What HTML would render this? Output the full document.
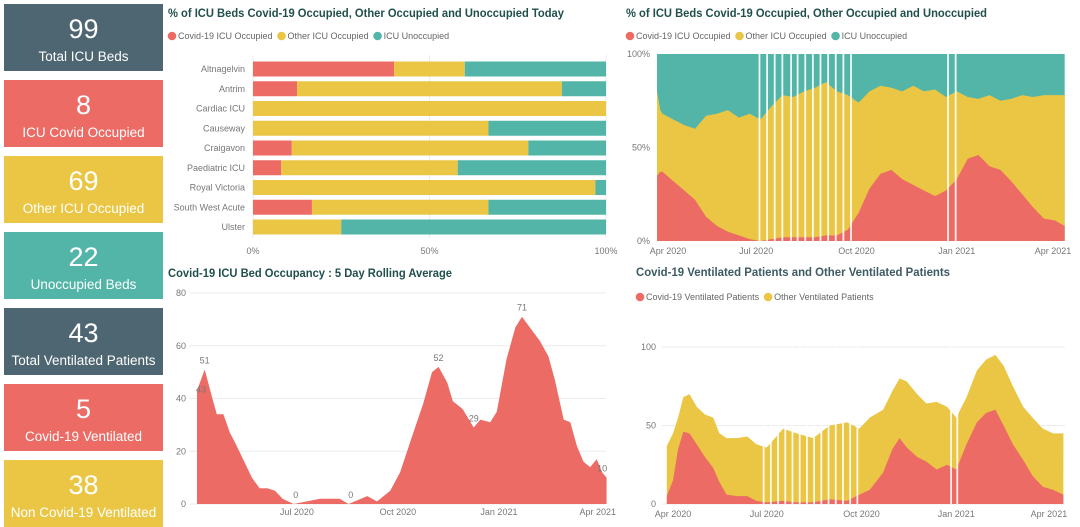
<!DOCTYPE html>
<html><head><meta charset="utf-8"><style>
body{margin:0;width:1080px;height:526px;overflow:hidden;background:#fff;font-family:"Liberation Sans",sans-serif;position:relative}
.card{position:absolute;left:4px;width:159px;height:67px;color:#fff;text-align:center}
.card .n{position:absolute;left:0;right:0;top:10px;font-size:27px;line-height:30px}
.card .l{position:absolute;left:0;right:0;top:45px;font-size:13.5px;line-height:16px;white-space:nowrap}
svg{position:absolute;left:0;top:0}
</style></head><body>
<div class="card" style="top:4px;background:#4e6672"><div class="n">99</div><div class="l">Total ICU Beds</div></div>
<div class="card" style="top:80px;background:#ec6b65"><div class="n">8</div><div class="l">ICU Covid Occupied</div></div>
<div class="card" style="top:156px;background:#eac644"><div class="n">69</div><div class="l">Other ICU Occupied</div></div>
<div class="card" style="top:232px;background:#52b5a8"><div class="n">22</div><div class="l">Unoccupied Beds</div></div>
<div class="card" style="top:308px;background:#4e6672"><div class="n">43</div><div class="l">Total Ventilated Patients</div></div>
<div class="card" style="top:384px;background:#ec6b65"><div class="n">5</div><div class="l">Covid-19 Ventilated</div></div>
<div class="card" style="top:460px;background:#eac644"><div class="n">38</div><div class="l">Non Covid-19 Ventilated</div></div>
<svg id="s" width="1080" height="526"></svg>
<script>
// ---- Bar chart data (today) ----
const hospitals=["Altnagelvin","Antrim","Cardiac ICU","Causeway","Craigavon","Paediatric ICU","Royal Victoria","South West Acute","Ulster"];
const covidPct=[40,12.5,0,0,11,8,0,16.7,0];
const otherPct=[20,75,100,66.7,67,50,97,50,25];
const pctTicks=["0%","50%","100%"];
// ---- Rolling average ----
const rollDays=[0,7,14,18,24,30,35,42,50,57,64,71,78,88,100,112,130,138,155,164,176,185,197,206,214,220,228,233,242,252,258,267,273,282,290,296,303,312,320,326,334,340,346,352,358,364,369,373];
const rollVals=[43,51,40,34,34,27,23,17,10,6,6,5,2,0,1,2,2,0,3,1,5,12,27,38,50,52,46,39,36,29,32,31,35,55,67,71,67,62,56,47,32,31,22,16,14,17,12,10];
const rollLabelDays=[0,7,90,140,220,252,296,369];
const rollLabelVals=["43","51","0","0","52","29","71","10"];
const rollTicks=[0,20,40,60,80];
// ---- 100% stacked ----
const stDays=[0,3,5,15,25,35,45,55,65,75,85,95,105,115,125,135,145,155,165,175,185,195,205,215,225,235,245,255,265,275,285,295,305,315,325,335,345,355,365,374];
const stCovid=[35,37,37,32,27,22,13,8,5,3,1,0,1,2,2,2,2,3,3,6,15,28,36,38,33,30,27,24,27,33,44,46,40,38,32,25,18,12,11,8];
const stOccupied=[80,70,68,65,62,60,67,68,70,66,68,65,72,78,77,80,82,85,80,78,74,80,83,82,80,83,80,81,77,80,77,76,78,75,76,78,77,78,78,78];
const stGaps=[94,101,108,115,123,129,136,143,150,157,164,171,178,267,274];
// ---- Ventilated ----
const vDays=[-6,0,5,10,16,23,31,39,45,52,62,72,81,91,107,120,136,152,169,181,191,204,213,220,227,237,246,256,266,275,285,295,304,313,321,330,340,349,359,369,379];
const vCovid=[5,15,35,46,45,38,30,23,14,6,5,5,2,1,2,1,1,3,2,6,9,20,35,42,36,30,27,22,25,22,38,52,58,60,50,38,28,18,11,9,6];
const vTotal=[37,45,55,68,70,62,57,55,45,42,42,43,38,36,48,45,42,50,52,48,55,60,72,80,78,70,64,65,62,55,68,85,92,95,88,75,62,55,48,45,45];
const vGaps=[88,95,102,109,116,123,130,137,144,151,158,165,172,179,270,276];
const dateTicks=["Apr 2020","Jul 2020","Oct 2020","Jan 2021","Apr 2021"];
const dateTickDays=[0,91,183,275,365];

const S=document.getElementById('s');const NS='http://www.w3.org/2000/svg';
const RED='#ec6b65',YEL='#eac644',TEAL='#52b5a8',GRID='#ebebeb',TXT='#777';
function mk(t,a,txt){const e=document.createElementNS(NS,t);for(const k in a)e.setAttribute(k,a[k]);if(txt!==undefined)e.textContent=txt;S.appendChild(e);return e;}
function title(x,y,t,c,n,w){const e=mk('text',{x:x,y:y,'font-size':12,'font-weight':'bold',fill:c||'#21504c',textLength:w,lengthAdjust:'spacingAndGlyphs'},t);

}
function legend(x,y,items,n){let cx=x;items.forEach(it=>{const c=mk('circle',{cx:cx+4,cy:y-3,r:4.3,fill:it[1]});


const t=mk('text',{x:cx+10,y:y,'font-size':9,fill:'#666'},it[0]);


cx+=10+t.getComputedTextLength()+5;});}
function lbl(x,y,t,anchor,n,size){const e=mk('text',{x:x,y:y,'font-size':size||9,fill:TXT,'text-anchor':anchor||'middle'},t);

return e;}

// ===== Chart 1: bar chart =====
title(168,17,'% of ICU Beds Covid-19 Occupied, Other Occupied and Unoccupied Today',null,'bar-chart-title',396);
legend(168,39,[['Covid-19 ICU Occupied',RED],['Other ICU Occupied',YEL],['ICU Unoccupied',TEAL]],'bar-legend-entry');
const bx0=253,bx1=606,by0=69,bstep=19.75,bh=15;
const bX=p=>bx0+(bx1-bx0)*p/100;
[0,50,100].forEach((p,i)=>{const g=mk('line',{x1:bX(p),x2:bX(p),y1:55,y2:238,stroke:GRID,'stroke-width':1});


lbl(bX(p),254,pctTicks[i],'middle','bar-x-tick');});
hospitals.forEach((h,i)=>{const cy=by0+i*bstep;lbl(245,cy+3,h,'end','bar-y-label');
const segs=[[0,covidPct[i],RED,'covid'],[covidPct[i],covidPct[i]+otherPct[i],YEL,'other'],[covidPct[i]+otherPct[i],100,TEAL,'unoccupied']];
segs.forEach(s=>{if(s[1]-s[0]<=0)return;const r=mk('rect',{x:bX(s[0]),y:cy-bh/2,width:bX(s[1])-bX(s[0]),height:bh,fill:s[2]});

});});

// ===== Chart 2: rolling average =====
title(168,277,'Covid-19 ICU Bed Occupancy : 5 Day Rolling Average',null,'rolling-chart-title',284);
const rx0=197,rpd=1.098,ry0=504,rpu=(504-293)/80;
const rX=d=>rx0+d*rpd,rY=v=>ry0-v*rpu;
rollTicks.forEach(t=>{const g=mk('line',{x1:190,x2:606,y1:rY(t),y2:rY(t),stroke:GRID});


lbl(186,rY(t)+3,String(t),'end','rolling-y-tick');});
let pd='M'+rX(rollDays[0])+','+ry0;rollDays.forEach((d,i)=>pd+=' L'+rX(d).toFixed(1)+','+rY(rollVals[i]).toFixed(1));pd+=' L'+rX(rollDays[rollDays.length-1])+','+ry0+'Z';
const ra=mk('path',{d:pd,fill:RED});


[91,183,275,365].forEach((d,i)=>lbl(Math.min(rX(d),598),515,dateTicks[i+1],'middle','rolling-x-tick'));
rollLabelDays.forEach((d,i)=>{const v=parseFloat(rollLabelVals[i]);lbl(rX(d)+(i==0?4:0),rY(v)-(i==0?-2:6),rollLabelVals[i],'middle','rolling-data-label');});

// ===== Chart 3: 100% stacked =====
title(626,17,'% of ICU Beds Covid-19 Occupied, Other Occupied and Unoccupied',null,'stacked-chart-title',361);
legend(626,39,[['Covid-19 ICU Occupied',RED],['Other ICU Occupied',YEL],['ICU Unoccupied',TEAL]],'stacked-legend-entry');
const sx0=657,spd=1.09,sy0=241,sy1=54;
const sX=d=>sx0+d*spd,sY=p=>sy0-(sy0-sy1)*p/100;
const sEnd=sX(stDays[stDays.length-1]);
const bg=mk('rect',{x:sx0,y:sy1,width:sEnd-sx0,height:sy0-sy1,fill:TEAL});


function area(days,vals,x,y,base,fill,n){let p='M'+x(days[0])+','+base;days.forEach((d,i)=>p+=' L'+x(d).toFixed(1)+','+y(vals[i]).toFixed(1));p+=' L'+x(days[days.length-1])+','+base+'Z';const e=mk('path',{d:p,fill:fill});

}
area(stDays,stOccupied,sX,sY,sy0,YEL,'stacked-other-area');
area(stDays,stCovid,sX,sY,sy0,RED,'stacked-covid-area');
stGaps.forEach(d=>{const g=mk('rect',{x:sX(d)-0.9,y:sy1,width:1.8,height:sy0-sy1,fill:'#fff',opacity:0.9});

});
[0,50,100].forEach((p,i)=>lbl(650,sY(p)+3,pctTicks[i],'end','stacked-y-tick'));
dateTickDays.forEach((d,i)=>lbl(Math.min(Math.max(sX(d),668),1053),254,dateTicks[i],'middle','stacked-x-tick'));

// ===== Chart 4: ventilated =====
title(636,276,'Covid-19 Ventilated Patients and Other Ventilated Patients','#3e5a63','ventilated-chart-title',314);
legend(636,300,[['Covid-19 Ventilated Patients',RED],['Other Ventilated Patients',YEL]],'ventilated-legend-entry');
const vx0=673,vpd=1.03,vy0=504,vpu=(504-347)/100;
const vX=d=>vx0+d*vpd,vY=v=>vy0-v*vpu;
[0,50,100].forEach(t=>{const g=mk('line',{x1:662,x2:1065,y1:vY(t),y2:vY(t),stroke:GRID});


lbl(656,vY(t)+3,String(t),'end','ventilated-y-tick');});
area(vDays,vTotal,vX,vY,vy0,YEL,'ventilated-other-area');
area(vDays,vCovid,vX,vY,vy0,RED,'ventilated-covid-area');
vGaps.forEach(d=>{const g=mk('rect',{x:vX(d)-0.9,y:vY(100),width:1.8,height:vY(0)-vY(100),fill:'#fff',opacity:0.9});

});
dateTickDays.forEach((d,i)=>lbl(Math.min(vX(d),1053),517,dateTicks[i],'middle','ventilated-x-tick'));
</script>
</body></html>
